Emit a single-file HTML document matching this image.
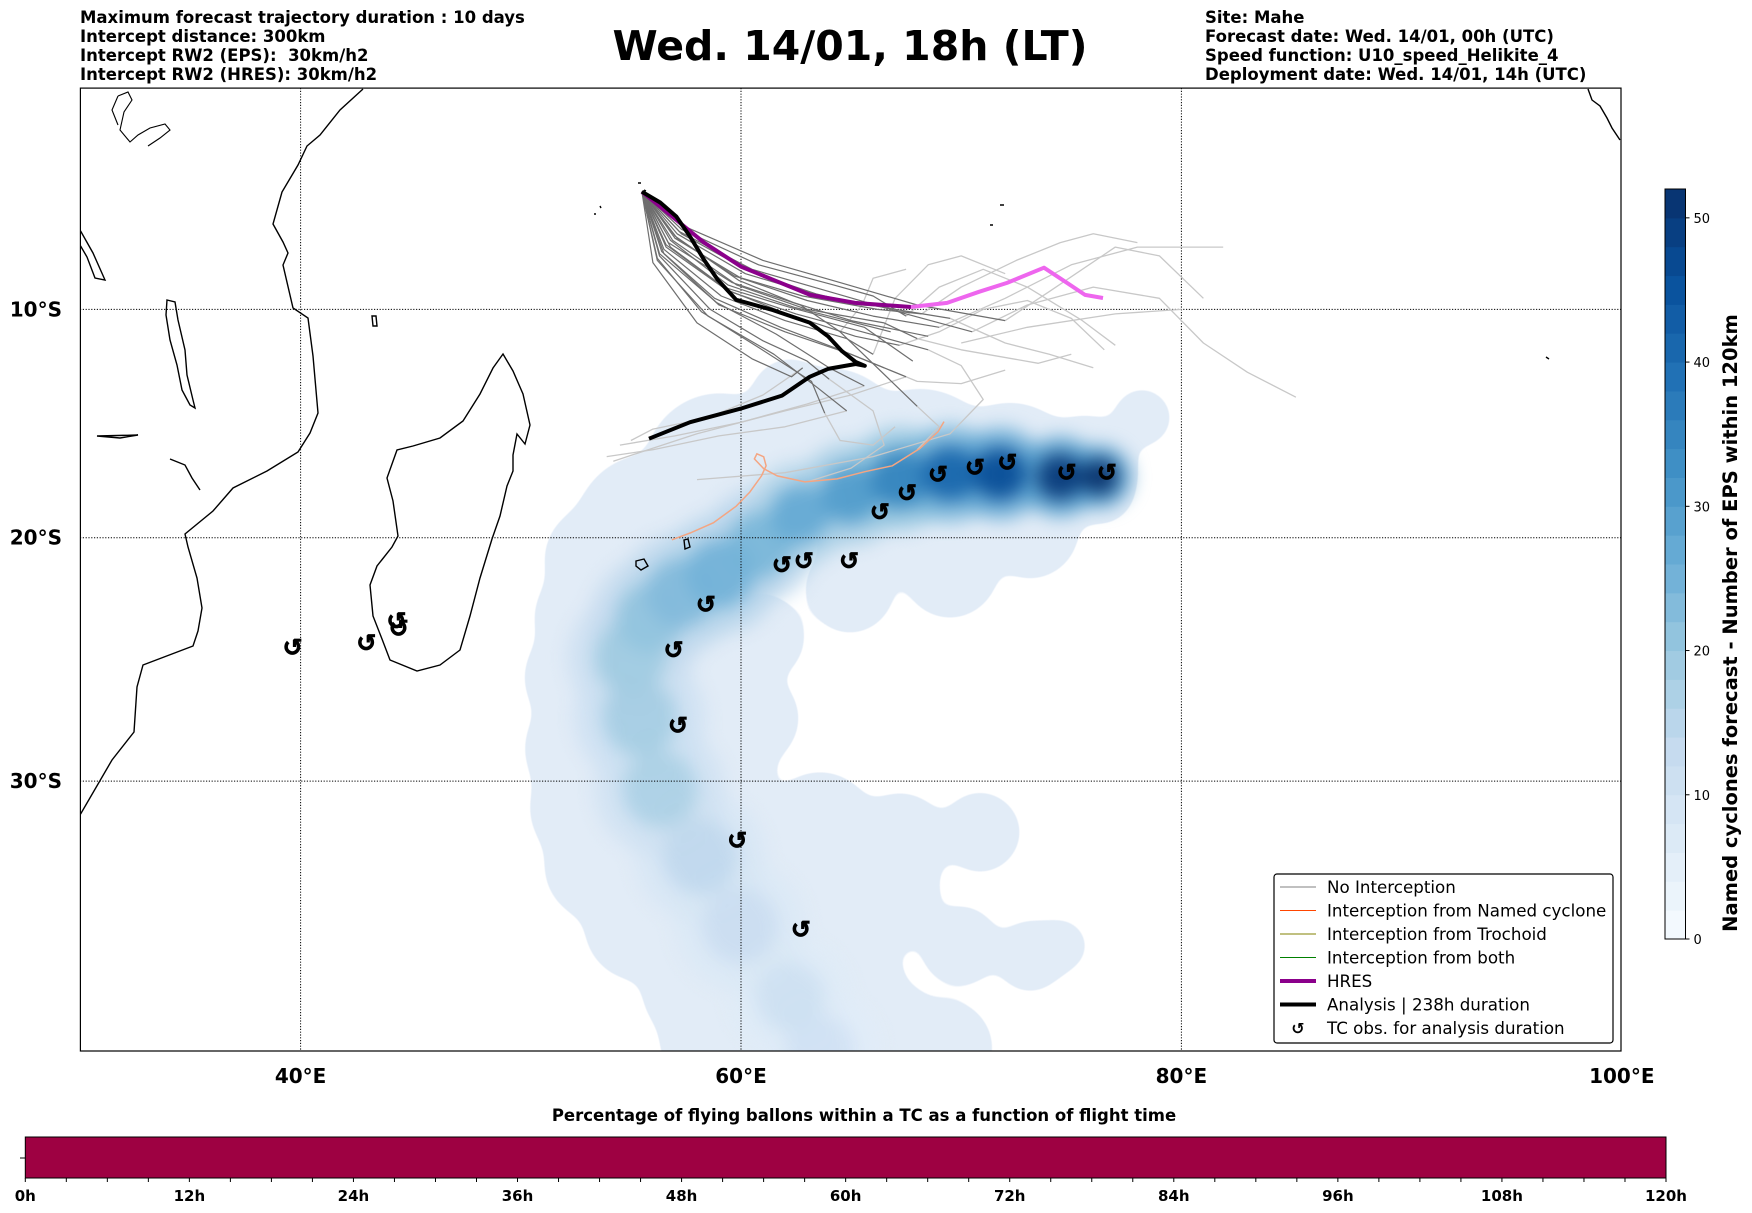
<!DOCTYPE html>
<html><head><meta charset="utf-8">
<style>
html,body{margin:0;padding:0;background:#fff;}
body{width:1752px;height:1213px;overflow:hidden;position:relative;font-family:"DejaVu Sans","Liberation Sans",sans-serif;}
.hdr{position:absolute;font-weight:bold;font-size:16.5px;line-height:19px;color:#000;white-space:pre;}
</style></head>
<body>
<div class="hdr" style="left:80px;top:8px;">Maximum forecast trajectory duration : 10 days
Intercept distance: 300km
Intercept RW2 (EPS):  30km/h2
Intercept RW2 (HRES): 30km/h2</div>
<div class="hdr" style="left:1205px;top:8px;">Site: Mahe
Forecast date: Wed. 14/01, 00h (UTC)
Speed function: U10_speed_Helikite_4
Deployment date: Wed. 14/01, 14h (UTC)</div>
<div style="position:absolute;left:500px;width:700px;top:22px;text-align:center;font-weight:bold;font-size:41px;">Wed. 14/01, 18h (LT)</div>

<svg id="svg" width="1752" height="1213" style="position:absolute;left:0;top:0" xmlns="http://www.w3.org/2000/svg">
<defs>
<clipPath id="mapclip"><rect x="80.4" y="88.1" width="1540.6" height="962.9"/></clipPath>
<filter id="blur" x="-50%" y="-50%" width="200%" height="200%" color-interpolation-filters="sRGB"><feGaussianBlur stdDeviation="9"/></filter>
<filter id="goo" x="-20%" y="-20%" width="140%" height="140%" color-interpolation-filters="sRGB">
<feGaussianBlur in="SourceGraphic" stdDeviation="12" result="b"/>
<feColorMatrix in="b" type="matrix" values="0 0 0 0 0.886  0 0 0 0 0.925  0 0 0 0 0.969  0 0 0 24 -7"/>
</filter>
</defs>
<g id="map" clip-path="url(#mapclip)">
<g id="density"></g>
<g id="coast" fill="none" stroke="#000" stroke-width="1.4">
<path d="M363,89 L340,110 L320,135 L307,146 L298,165 L282,192 L273,224 L283,242 L288,253 L283,265 L293,308 L308,318 L313,356 L318,413 L310,433 L298,452 L267,471 L233,488 L213,511 L185,534 L188,547 L197,578 L202,608 L198,631 L193,646 L143,665 L137,687 L134,732 L112,760 L80,815"/>
<path d="M503,354 L513,371 L523,394 L530,425 L525,444 L517,434 L513,455 L513,471 L507,486 L500,516 L492,539 L480,578 L470,616 L460,650 L440,665 L417,671 L390,660 L382,639 L373,616 L370,585 L377,566 L392,547 L398,536 L393,501 L387,478 L397,450 L413,446 L440,438 L463,421 L480,394 L493,368 Z"/>
<path d="M167,300 L175,302 L178,320 L185,350 L187,375 L193,400 L195,408 L190,405 L182,390 L177,365 L170,340 L166,315 Z"/>
<path d="M80,230 L93,253 L105,280 L95,278 L87,257 L80,245"/>
<path stroke-width="1.1" d="M118,96 L128,92 L132,100 L124,112 L120,130 L130,142 L138,135 L150,128 L165,124 L170,130 L160,138 L148,146 M118,96 L112,110 L118,125"/>
<path d="M97,436 L138,435 L120,438 Z"/>
<path d="M170,459 L185,465 L192,478 L200,490"/>
<path d="M636,561 L644,559 L648,566 L641,570 L636,566 Z"/>
<path d="M684,540 L688,539 L690,547 L685,549 Z"/>
<path d="M372,316 L376,316 L377,326 L373,326 Z"/>
<path d="M1588,89 L1592,100 L1600,106 L1607,118 L1612,128 L1620,140"/>
<path d="M638,183 l3,0 M644,190 l2,1 M594,214 l2,0 M600,206 l1,2 M1000,205 l4,0 M990,225 l3,0 M1546,357 l3,2"/>
</g>
<g id="grid"></g>
<g id="tracks"></g>
<g id="tcobs"></g>
</g>
<rect x="80.4" y="88.1" width="1540.6" height="962.9" fill="none" stroke="#000" stroke-width="1.2"/>
<g id="axes"></g>
<g id="cbar"></g>
<g id="tbar"></g>
<g id="legend"></g>
</svg>

<script>
// ---------- data ----------
const lonTicks = [40, 60, 80, 100];
const latTicks = [10, 20, 30];
const cbarTicks = [0, 10, 20, 30, 40, 50];
const timeTicks = ["0h","12h","24h","36h","48h","60h","72h","84h","96h","108h","120h"];

const analysisLon = [55.50,56.33,57.06,57.69,58.32,58.94,59.78,61.45,63.12,63.95,64.58,65.21,65.62,65.21,63.95,63.12,61.86,59.99,57.69,55.82];
const analysisLat = [4.70,5.19,5.82,6.73,7.77,8.67,9.57,10.03,10.59,11.20,11.86,12.34,12.51,12.43,12.65,13.00,13.83,14.40,15.00,15.72];

const hresLon = [55.50,56.87,58.32,60.00,61.45,63.14,65.18,67.72];
const hresLat = [4.70,5.82,7.00,8.08,8.67,9.35,9.71,9.89];
const hresLateLon = [67.72,69.36,70.81,72.08,73.76,74.81,75.62,76.44];
const hresLateLat = [9.89,9.71,9.21,8.81,8.13,8.81,9.35,9.49];

const namedLon = [69.22,68.95,68.12,66.87,65.62,64.36,62.90,61.65,61.03,60.61,60.72,61.03,61.14,60.93,60.40,59.78,58.74,57.69,56.86];
const namedLat = [14.97,15.41,16.15,16.90,17.16,17.47,17.60,17.34,17.03,16.60,16.38,16.51,16.90,17.34,18.04,18.65,19.36,19.80,20.09];

const ensDark = [
 [[55.5,4.7],[57,6.8],[60,8.6],[63,9.6],[66,10.3],[69,10.8]],
 [[55.5,4.7],[56.8,7.2],[59.5,9.2],[62.5,10.2],[65.5,11.0],[68.5,11.8]],
 [[55.5,4.7],[56.5,7.5],[59,9.8],[62,11.0],[65,12.0],[67.5,13.0]],
 [[55.5,4.7],[56.2,7.8],[58.5,10.3],[61.5,12.0],[63.5,13.5],[64.8,14.5]],
 [[55.5,4.7],[57.2,6.5],[60.5,8.2],[64,9.2],[67.5,10.2],[70.5,11.0]],
 [[55.5,4.7],[57.5,6.3],[61,7.8],[64.5,8.8],[68,9.8],[72,10.5]],
 [[55.5,4.7],[56.4,7.4],[58.8,9.5],[61.8,10.8],[64.5,11.8],[66.5,12.6]],
 [[55.5,4.7],[56.9,6.9],[59.8,8.9],[63,10.0],[66.5,10.6],[68,11.3]],
 [[55.5,4.7],[56,7.9],[58,10.6],[60.5,12.2],[62.3,13.0],[62.8,12.6]],
 [[55.5,4.7],[57.1,6.6],[60.2,8.4],[63.6,9.4],[67,10.0],[69.5,10.4]],
 [[55.5,4.7],[56.6,7.1],[59.2,9.0],[62.2,9.9],[65.6,10.8],[67.8,12.3]],
 [[55.5,4.7],[56.3,7.6],[58.6,10.0],[61,11.4],[63,12.3],[64,13.1]],
 [[55.5,4.7],[57.3,6.4],[60.8,8.0],[64.2,8.9],[66,9.4],[67.5,10.3]],
 [[55.5,4.7],[56.7,7.0],[59.6,8.8],[62.7,9.8],[64.5,11],[68,14.3]],
 [[55.5,4.7],[57.0,6.7],[59.9,8.7],[62.4,9.7],[65,10.5],[68.5,11.2]],
 [[55.5,4.7],[56.5,7.3],[59.1,9.4],[62,10.5],[64.8,11.3],[66,12.0]],
 [[55.5,4.7],[56.6,7.2],[59.3,9.1],[62.1,10.2],[65.2,11.2],[67.2,11.6]],
 [[55.5,4.7],[57.1,6.8],[59.7,8.5],[62.8,9.4],[66.2,10.0],[68.2,10.2]],
 [[55.5,4.7],[56.3,7.5],[58.9,9.7],[61.6,11.1],[64,12.6],[65.6,13.4]],
 [[55.5,4.7],[56.8,6.9],[59.4,8.9],[62.4,9.9],[64,10.3],[66.8,11.0]],
 [[55.5,4.7],[56.2,7.7],[58.2,10.1],[60.8,11.7],[63.2,13.2],[63.8,14.6]],
 [[55.5,4.7],[57.3,6.6],[60.4,8.3],[63.4,9.3],[65.5,9.8],[67,9.9]]
];
const ensLight = [
 [[69,10.8],[72,9.5],[75,8.0],[78,7.2],[81.9,7.2]],
 [[70.5,11.0],[73,9.8],[76,9.0],[79,9.5],[81,11.5],[83,12.8],[85.2,13.9]],
 [[72,10.5],[74,9.2],[77,7.2],[79,7.6],[81,9.5]],
 [[67.5,10.3],[69,9],[71,8.2],[73,9],[75.5,10.5],[77,11.6]],
 [[67.5,13.0],[65,13.8],[62,14.5],[58,15.5],[54.2,16.7]],
 [[64.8,14.5],[62,15.2],[59,15.6],[56,16.2],[53.9,16.5]],
 [[68.5,11.8],[70,12.5],[71,14.0],[69.5,15.5],[66,16.5],[62,17.2],[58,17.5]],
 [[62.8,12.6],[61,13.8],[58.5,14.8],[56,15.3],[55,15.8]],
 [[69.5,10.4],[72,11.5],[74,12.0],[76,12.6]],
 [[68,11.3],[70,11.8],[73.5,12.4],[75,12.0]],
 [[66.5,12.6],[68,13.2],[70,13.3],[72,12.7]],
 [[64,13.1],[66,14.5],[66.5,16],[65,17],[63,17.6]],
 [[68,14.3],[69,15.2],[68,16.2]],
 [[66,12.0],[67,9.5],[68.5,8.0],[70,7.6],[72,8.4]],
 [[64.5,11],[65.5,9.8],[66,8.6],[67.5,8.2]],
 [[70,11.5],[73,10.8],[77,10.2],[80,10.0]],
 [[67.2,11.6],[69,11.0],[71,10.0],[73,9.6],[75,10.4],[76.5,11.8]],
 [[65.6,13.4],[63,14.2],[60,15.0],[57,15.6],[54.5,16.0]],
 [[68.2,10.2],[70,9.0],[72.5,7.8],[74.5,7.0],[76,6.6],[78,7.0]],
 [[63.8,14.6],[64.5,15.8],[66,16.0],[67,15.2]]
];

const tcLon = [39.64,42.99,44.36,44.46,56.94,57.14,58.41,59.83,62.72,61.86,62.86,64.91,66.31,67.54,68.95,70.63,72.10,74.79,76.62];
const tcLat = [24.61,24.43,23.51,23.83,24.71,27.78,22.83,32.30,35.66,21.17,20.99,20.99,18.90,18.07,17.28,16.98,16.75,17.19,17.19];

const envLon = [78.21,75.62,72.21,68.13,64.04,62.22,59.04,55.87,53.60,53.14,52.69,52.91,53.14,53.60,55.41,58.2,59.04,60.86,62.22,63.59,58.14,57.23,60.86,64.95,69.49,73.13,63.59,67.22,70.86,66.31,69.95,73.13,74.48,60.4,61.3,59.04,76.3,56.5,55.0,58.0,66.0,70.0,66.5,69.2,65.0,62.5,64.0];
const envLat = [14.8,17.03,17.25,17.03,15.94,13.97,17.03,19.66,20.92,23.38,25.85,28.72,31.06,33.29,35.51,37.74,39.59,39.59,38.11,39.59,29.95,26.67,24.20,22.15,21.33,19.66,31.81,32.36,31.99,34.40,36.26,36.63,36.26,27.5,32.9,35.2,17.9,22.0,30.0,33.5,19.5,19.0,39.6,39.9,37.6,35.8,35.5];
const envRad = [1.1,2.2,3.0,3.4,3.2,1.6,3.2,3.2,2.3,2.3,2.3,2.5,2.5,2.3,2.3,2.5,2.5,2.7,2.7,2.7,3.2,2.7,1.8,1.8,2.0,2.0,2.3,2.0,1.6,2.5,1.6,1.4,1.0,2.0,2.3,2.5,1.4,2.6,2.6,2.6,2.4,2.2,2.5,2.0,2.2,2.0,2.0];

const densLon = [76.30,74.48,71.76,69.49,67.22,64.95,62.68,60.86,59.04,57.23,55.87,54.96,55.41,56.32,58.14,59.96,62.23,63.59];
const densLat = [17.38,17.38,17.25,17.25,17.47,18.13,19.00,20.30,21.53,22.35,23.38,25.02,27.49,30.33,32.92,35.52,38.11,39.97];
const densVal = [52,50,46,41,35,30,27,24,25,23,21,19,18,17,14,12,11,10];
const densSpread = [1.1,1.4,1.6,1.7,1.8,1.8,1.8,2.0,2.1,2.1,2.1,2.2,2.3,2.3,2.3,2.3,2.1,2.1];

const envValue = 5;
const cbarMax = 52;

// ---------- projection ----------
const X0 = 80.4, PXDEG = 22.02, Y0 = 88.1, R = PXDEG*180/Math.PI;
function px(lon){ return X0 + (lon-30)*PXDEG; }
function py(latS){ return Y0 + R*Math.log(Math.tan(Math.PI/4 + latS*Math.PI/360)); }

const NS = "http://www.w3.org/2000/svg";
function mk(tag, parent, attrs){
  const e = document.createElementNS(NS, tag);
  for (const k in attrs) e.setAttribute(k, attrs[k]);
  parent.appendChild(e);
  return e;
}
const stops = [[0,[247,251,255]],[0.125,[222,235,247]],[0.25,[198,219,239]],[0.375,[158,202,225]],[0.5,[107,174,214]],[0.625,[66,146,198]],[0.75,[33,113,181]],[0.875,[8,81,156]],[1,[8,48,107]]];
function blues(v){
  let t = Math.max(0, Math.min(1, v/cbarMax));
  for (let i=1;i<stops.length;i++){
    if (t<=stops[i][0]){
      const a=stops[i-1], b=stops[i], f=(t-a[0])/(b[0]-a[0]);
      const c=a[1].map((x,j)=>Math.round(x+(b[1][j]-x)*f));
      return `rgb(${c[0]},${c[1]},${c[2]})`;
    }
  }
  return "rgb(8,48,107)";
}

// ---------- density ----------
const dens = document.getElementById('density');
const envG = mk('g', dens, {filter:'url(#goo)'});


envLon.forEach((lon,i)=>{
  const c = mk('circle', envG, {cx:px(lon), cy:py(envLat[i]), r:envRad[i]*PXDEG, fill:blues(envValue)});
  
  
});
const coreG = mk('g', dens, {filter:'url(#blur)'});


const order = densVal.map((v,i)=>i).sort((a,b)=>densVal[a]-densVal[b]);
order.forEach(i=>{
  const c = mk('circle', coreG, {cx:px(densLon[i]), cy:py(densLat[i]), r:densSpread[i]*PXDEG*1.3, fill:blues(densVal[i]*0.6), opacity:0.85});
  
  
});
order.forEach(i=>{
  const c = mk('circle', coreG, {cx:px(densLon[i]), cy:py(densLat[i]), r:densSpread[i]*PXDEG*0.75, fill:blues(densVal[i]), opacity:0.95});
  
  
});

// ---------- grid ----------
const grid = document.getElementById('grid');
lonTicks.forEach(l=>{
  const ln = mk('line', grid, {x1:px(l), x2:px(l), y1:88, y2:1051, stroke:'#000', 'stroke-width':1, 'stroke-dasharray':'1.2,1.6'});
  
  
});
latTicks.forEach(l=>{
  const ln = mk('line', grid, {x1:80, x2:1621, y1:py(l), y2:py(l), stroke:'#000', 'stroke-width':1, 'stroke-dasharray':'1.2,1.6'});
  
  
});

// ---------- tracks ----------
const tracks = document.getElementById('tracks');
function pts(arr){ return arr.map(p=>px(p[0]).toFixed(1)+','+py(p[1]).toFixed(1)).join(' '); }
function zipPts(lons,lats){ return lons.map((l,i)=>px(l).toFixed(1)+','+py(lats[i]).toFixed(1)).join(' '); }
ensLight.forEach(t=>{
  const p = mk('polyline', tracks, {points:pts(t), fill:'none', stroke:'#c8c8c8', 'stroke-width':1.3, 'stroke-linejoin':'round'});
  
  
});
ensDark.forEach(t=>{
  const p = mk('polyline', tracks, {points:pts(t), fill:'none', stroke:'#6e6e6e', 'stroke-width':1.2, 'stroke-linejoin':'round'});
  
  
});
const nc = mk('polyline', tracks, {points:zipPts(namedLon,namedLat), fill:'none', stroke:'#f4a582', 'stroke-width':1.5});


const h1 = mk('polyline', tracks, {points:zipPts(hresLon,hresLat), fill:'none', stroke:'#8b008b', 'stroke-width':4, 'stroke-linejoin':'round'});


const h2 = mk('polyline', tracks, {points:zipPts(hresLateLon,hresLateLat), fill:'none', stroke:'#ee66ee', 'stroke-width':4, 'stroke-linejoin':'round'});


const an = mk('polyline', tracks, {points:zipPts(analysisLon,analysisLat), fill:'none', stroke:'#000', 'stroke-width':4, 'stroke-linejoin':'round'});



// ---------- TC obs ----------
const tcg = document.getElementById('tcobs');
tcLon.forEach((l,i)=>{
  const t = mk('text', tcg, {x:px(l), y:py(tcLat[i])+8, 'text-anchor':'middle', 'font-size':24, 'font-weight':'bold', 'font-family':'DejaVu Sans, sans-serif', fill:'#000', stroke:'#000', 'stroke-width':0.8});
  t.textContent = '↺';
  
  
});

// ---------- axis labels ----------
const ax = document.getElementById('axes');
lonTicks.forEach(l=>{
  const t = mk('text', ax, {x:px(l), y:1083, 'text-anchor':'middle', 'font-size':20, 'font-weight':'bold', 'font-family':'DejaVu Sans, sans-serif'});
  t.textContent = l+'°E';
  
  
});
latTicks.forEach(l=>{
  const t = mk('text', ax, {x:62, y:py(l)+7, 'text-anchor':'end', 'font-size':20, 'font-weight':'bold', 'font-family':'DejaVu Sans, sans-serif'});
  t.textContent = l+'°S';
  
  
});

// ---------- density colorbar ----------
const cb = document.getElementById('cbar');
const CBX=1665, CBW=20.5, CBTOP=189, CBBOT=939;
function cby(v){ return CBBOT - (CBBOT-CBTOP)*v/cbarMax; }
for (let v=0; v<cbarMax; v+=2){
  const r = mk('rect', cb, {x:CBX, y:cby(v+2), width:CBW, height:cby(v)-cby(v+2)+0.5, fill:blues(v+1)});
  
  
}
const cbf = mk('rect', cb, {x:CBX, y:CBTOP, width:CBW, height:CBBOT-CBTOP, fill:'none', stroke:'#000', 'stroke-width':1});


cbarTicks.forEach(v=>{
  const tk = mk('line', cb, {x1:CBX+CBW, x2:CBX+CBW+4, y1:cby(v), y2:cby(v), stroke:'#000', 'stroke-width':1});
  
  
  const t = mk('text', cb, {x:CBX+CBW+8, y:cby(v)+5, 'font-size':13, 'font-family':'DejaVu Sans, sans-serif'});
  t.textContent = v;
  
  
});
const cbt = mk('text', cb, {x:0, y:0, transform:'translate(1737,623) rotate(-90)', 'text-anchor':'middle', 'font-size':19.5, 'font-weight':'bold', 'font-family':'DejaVu Sans, sans-serif'});
cbt.textContent = 'Named cyclones forecast - Number of EPS within 120km';



// ---------- flight time bar ----------
const tb = document.getElementById('tbar');
const TBX=25.3, TBW=1640.7, TBTOP=1137, TBBOT=1178;
const tbt = mk('text', tb, {x:864, y:1121, 'text-anchor':'middle', 'font-size':16.5, 'font-weight':'bold', 'font-family':'DejaVu Sans, sans-serif'});
tbt.textContent = 'Percentage of flying ballons within a TC as a function of flight time';


const tbr = mk('rect', tb, {x:TBX, y:TBTOP, width:TBW, height:TBBOT-TBTOP, fill:'#9e0142', stroke:'#000', 'stroke-width':1});


const lt = mk('line', tb, {x1:20, x2:TBX, y1:1158, y2:1158, stroke:'#000', 'stroke-width':1});


for (let h=0; h<=120; h+=3){
  const x = TBX + TBW*h/120;
  const tk = mk('line', tb, {x1:x, x2:x, y1:TBBOT, y2:TBBOT+4, stroke:'#000', 'stroke-width':1});
  
  
}
timeTicks.forEach((s,i)=>{
  const x = TBX + TBW*i/(timeTicks.length-1);
  const t = mk('text', tb, {x:x, y:1201, 'text-anchor':'middle', 'font-size':15, 'font-weight':'bold', 'font-family':'DejaVu Sans, sans-serif'});
  t.textContent = s;
  
  
});

// ---------- legend ----------
const lg = document.getElementById('legend');
const lbox = mk('rect', lg, {x:1274, y:874, width:339, height:169, rx:3, fill:'#fff', stroke:'#000', 'stroke-width':1.2});


const legLabels = ['No Interception','Interception from Named cyclone','Interception from Trochoid','Interception from both','HRES','Analysis | 238h duration','TC obs. for analysis duration'];
const legColors = ['#808080','#ff4500','#808000','#008000','#8b008b','#000','#000'];
const legWidths = [1,1,1,1,4,4,0];
legLabels.forEach((s,i)=>{
  const y = 887 + i*23.5;
  if (legWidths[i] > 0){
    const l = mk('line', lg, {x1:1280, x2:1316, y1:y, y2:y, stroke:legColors[i], 'stroke-width':legWidths[i]});
    
    
  } else {
    const m = mk('text', lg, {x:1298, y:y+6, 'text-anchor':'middle', 'font-size':16, 'font-weight':'bold', 'font-family':'DejaVu Sans, sans-serif'});
    m.textContent = '↺';
    
    
  }
  const t = mk('text', lg, {x:1327, y:y+6, 'font-size':16.7, 'font-family':'DejaVu Sans, sans-serif'});
  t.textContent = s;
  
  
});
</script>
</body></html>
